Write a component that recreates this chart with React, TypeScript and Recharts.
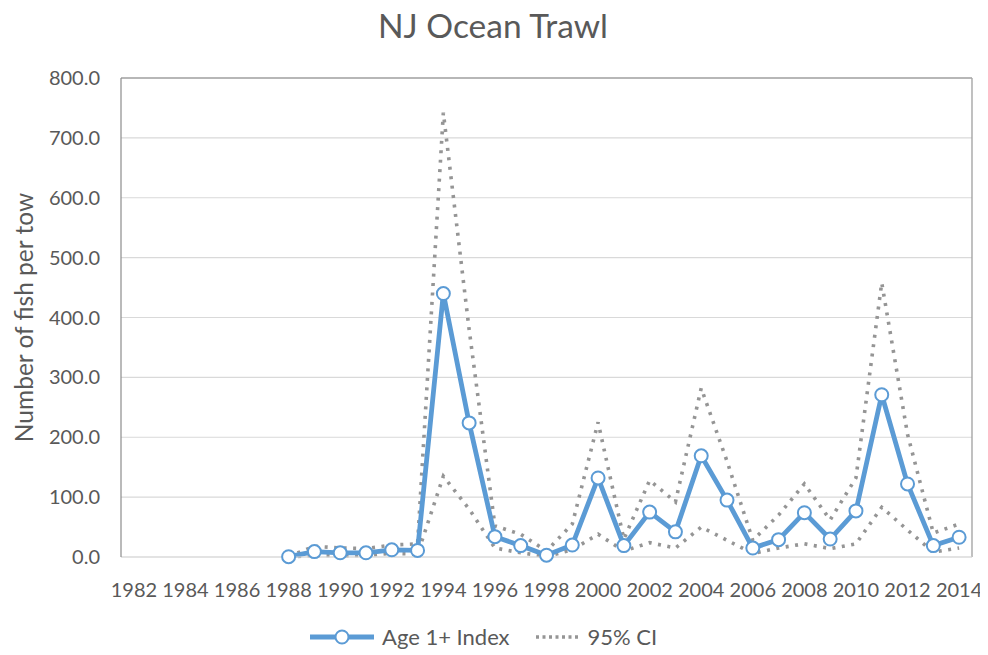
import React from "react";
import { LineChart, Line, XAxis, YAxis, CartesianGrid } from "recharts";

const years = [
  "1982","1983","1984","1985","1986","1987","1988","1989","1990","1991","1992","1993","1994","1995","1996","1997","1998","1999","2000","2001","2002","2003","2004","2005","2006","2007","2008","2009","2010","2011","2012","2013","2014",
];
const ageIndex = [
  null,null,null,null,null,null,0.5,9,7,7,12,11,440,224,34,19,3,20,132,19,75,42,169,95,15,29,74,30,77,271,122,19,33,
];
const ciUpper = [
  null,null,null,null,null,null,1,18,15,14,20,22,742,380,52,38,10,55,225,30,128,92,282,160,28,70,122,62,132,458,205,40,55,
];
const ciLower = [
  null,null,null,null,null,null,0,3,2,3,6,5,135,80,15,7,1,12,38,10,24,15,50,28,6,15,22,14,22,83,45,8,15,
];
const yTicks = [0, 100, 200, 300, 400, 500, 600, 700, 800];

const data = years.map((y, i) => ({
  year: y,
  age: ageIndex[i],
  upper: ciUpper[i],
  lower: ciLower[i],
}));

const FONT = "Lato, 'Open Sans', sans-serif";
const TXT = "#595959";
const BLUE = "#5B9BD5";
const GRAY = "#959595";

export default function App() {
  return (
    <div style={{ position: "relative", width: 980, height: 647, fontFamily: FONT }}>
      <div
        style={{
          position: "absolute",
          top: -3,
          left: 0,
          width: 970,
          textAlign: "center",
          fontSize: 33.5,
          color: TXT,
          lineHeight: "40px",
        }}
      >
        NJ Ocean Trawl
      </div>
      <LineChart
        width={980}
        height={647}
        data={data}
        margin={{ top: 70, right: 16, left: 0, bottom: 48 }}
      >
        <CartesianGrid horizontal vertical={false} stroke="#d9d9d9" strokeWidth={1.2} />
        <CartesianGrid
          horizontal
          vertical
          stroke="#a6a6a6"
          strokeWidth={1.4}
          horizontalCoordinatesGenerator={({ offset }: any) => [offset.top]}
          verticalCoordinatesGenerator={({ offset }: any) => [offset.left + offset.width]}
        />
        <XAxis
          dataKey="year"
          scale="band"
          interval={1}
          tickLine={false}
          axisLine={{ stroke: "#d9d9d9", strokeWidth: 1.2 }}
          tick={{ fill: TXT, fontSize: 20, fontFamily: FONT }}
          tickMargin={20}
          height={50}
        />
        <YAxis
          domain={[0, 800]}
          ticks={yTicks}
          width={113}
          tickLine={false}
          tickMargin={15}
          axisLine={{ stroke: "#8c8c8c", strokeWidth: 1.2 }}
          tickFormatter={(v: number) => v.toFixed(1)}
          tick={{ fill: TXT, fontSize: 20, fontFamily: FONT }}
          label={({ viewBox }: any) => {
            const cy = viewBox.y + viewBox.height / 2;
            return (
              <text
                x={15}
                y={cy}
                transform={`rotate(-90 15 ${cy})`}
                textAnchor="middle"
                dominantBaseline="central"
                fill={TXT}
                fontSize={24.5}
                fontFamily={FONT}
              >
                Number of fish per tow
              </text>
            );
          }}
        />
        <Line
          dataKey="upper"
          stroke={GRAY}
          strokeWidth={3.6}
          strokeDasharray="3 6.5"
          dot={false}
          activeDot={false}
          isAnimationActive={false}
        />
        <Line
          dataKey="lower"
          stroke={GRAY}
          strokeWidth={3.6}
          strokeDasharray="3 6.5"
          dot={false}
          activeDot={false}
          isAnimationActive={false}
        />
        <Line
          dataKey="age"
          stroke={BLUE}
          strokeWidth={4.8}
          dot={{ r: 6.5, fill: "#ffffff", stroke: BLUE, strokeWidth: 2 }}
          activeDot={false}
          isAnimationActive={false}
        />
      </LineChart>
      <div
        style={{
          position: "absolute",
          top: 617,
          left: 300,
          display: "flex",
          alignItems: "center",
          fontSize: 22,
          color: TXT,
          lineHeight: "24px",
        }}
      >
        <svg width={68} height={20} style={{ marginRight: 6 }}>
          <line x1={2} y1={10} x2={66} y2={10} stroke={BLUE} strokeWidth={4.8} />
          <circle cx={34} cy={10} r={6.5} fill="#fff" stroke={BLUE} strokeWidth={2} />
        </svg>
        <span style={{ marginRight: 24 }}>Age 1+ Index</span>
        <svg width={46} height={20} style={{ marginRight: 8 }}>
          <line x1={2} y1={10} x2={44} y2={10} stroke={GRAY} strokeWidth={3.5} strokeDasharray="3 3.5" />
        </svg>
        <span>95% CI</span>
      </div>
    </div>
  );
}
